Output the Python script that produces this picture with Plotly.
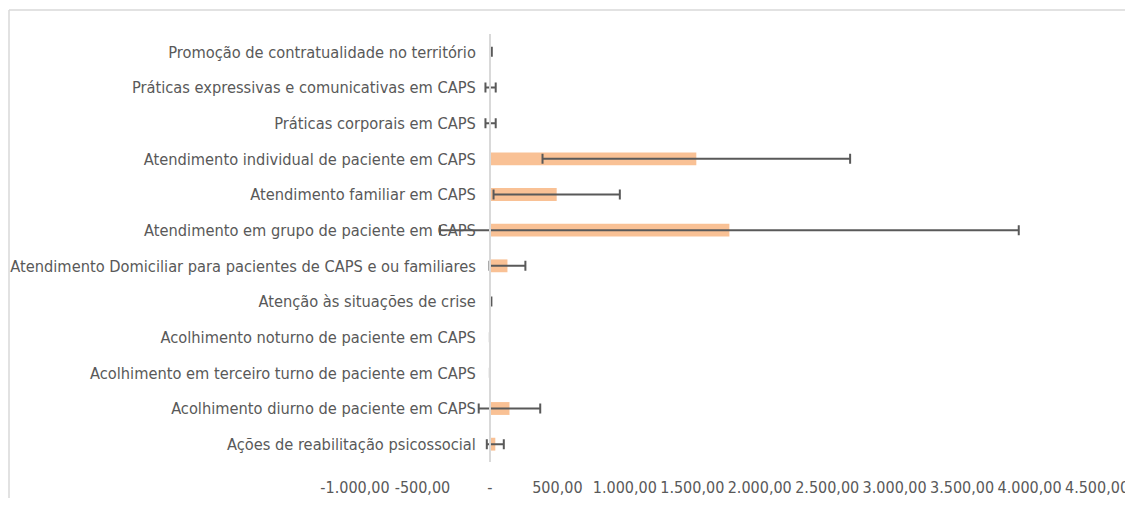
import plotly.graph_objects as go

# Categories listed bottom to top
categories = [
    "Ações de reabilitação psicossocial",
    "Acolhimento diurno de paciente em CAPS",
    "Acolhimento em terceiro turno de paciente em CAPS",
    "Acolhimento noturno de paciente em CAPS",
    "Atenção às situações de crise",
    "Atendimento Domiciliar para pacientes de CAPS e ou familiares",
    "Atendimento em grupo de paciente em CAPS",
    "Atendimento familiar em CAPS",
    "Atendimento individual de paciente em CAPS",
    "Práticas corporais em CAPS",
    "Práticas expressivas e comunicativas em CAPS",
    "Promoção de contratualidade no território",
]
values = [40, 145, 0, 0, 6, 130, 1775, 495, 1530, 5, 5, 8]
errors = [63, 228, 0, 0, 5, 133, 2145, 468, 1140, 38, 38, 6]

tick_vals = [-1000, -500, 0, 500, 1000, 1500, 2000, 2500, 3000, 3500, 4000, 4500]
tick_text = ["-1.000,00", "-500,00", "-", "500,00", "1.000,00", "1.500,00",
             "2.000,00", "2.500,00", "3.000,00", "3.500,00", "4.000,00", "4.500,00"]

FONT = "Liberation Sans Narrow, Arial Narrow, DejaVu Sans Condensed, sans-serif"
TEXT = "#595959"
BORDER = "#D9D9D9"

fig = go.Figure()
fig.add_trace(go.Bar(
    x=values, y=categories, orientation="h",
    marker=dict(color="#F9C195", line=dict(width=0)),
    error_x=dict(type="data", array=errors, symmetric=True,
                 color="#595959", thickness=2, width=5),
    width=0.36,
))

xmin, xmax = -1000, 4500
zero_pos = (0 - xmin) / (xmax - xmin)

fig.update_layout(
    width=1125, height=490,
    margin=dict(l=347, r=36, t=26, b=36),
    paper_bgcolor="white", plot_bgcolor="white",
    showlegend=False,
    font=dict(family=FONT, size=16.3, color=TEXT),
    xaxis=dict(range=[xmin, xmax], tickvals=tick_vals, ticktext=tick_text,
               showgrid=False, zeroline=False, showline=False, automargin=False,
               ticks="", ticklabelstandoff=14, tickangle=0,
               tickfont=dict(family=FONT, size=16, color=TEXT)),
    yaxis=dict(categoryorder="array", categoryarray=categories,
               anchor="free", position=zero_pos, automargin=False,
               showgrid=False, zeroline=False,
               showline=True, linecolor=BORDER, linewidth=1.5,
               ticks="", ticklabelstandoff=10,
               tickfont=dict(family=FONT, size=16.3, color=TEXT)),
    shapes=[
        dict(type="line", xref="paper", yref="paper",
             x0=-0.4663, x1=1.0485, y0=1.056, y1=1.056,
             line=dict(color=BORDER, width=1.5), layer="below"),
        dict(type="line", xref="paper", yref="paper",
             x0=-0.4663, x1=-0.4663, y0=1.056, y1=-0.084,
             line=dict(color=BORDER, width=1.5), layer="below"),
    ],
)

fig.write_html("out.html")
